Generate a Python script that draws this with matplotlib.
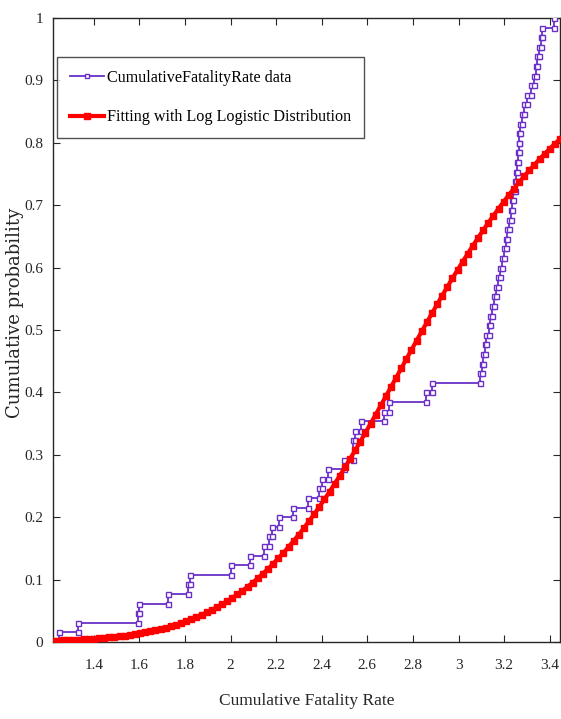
import numpy as np
import matplotlib
matplotlib.use("Agg")
import matplotlib.pyplot as plt
from matplotlib.ticker import FixedLocator, FixedFormatter

# ---- data ----
# sorted sample of cumulative fatality rates (n = 65)
fatality_rate = [
    1.246, 1.332, 1.594, 1.600, 1.726, 1.813, 1.820, 2.000, 2.086, 2.146,
    2.168, 2.182, 2.214, 2.273, 2.338, 2.390, 2.400, 2.426, 2.499, 2.535,
    2.535, 2.545, 2.572, 2.674, 2.696, 2.856, 2.883,
    3.093, 3.101, 3.107, 3.115, 3.122, 3.133, 3.140, 3.148, 3.156, 3.163,
    3.172, 3.180, 3.190, 3.198, 3.206, 3.214, 3.222, 3.229, 3.235, 3.240,
    3.246, 3.252, 3.257, 3.260, 3.263, 3.266, 3.270, 3.278, 3.287, 3.301,
    3.316, 3.330, 3.338, 3.345, 3.352, 3.360, 3.367, 3.418,
]
# fitted log-logistic parameters (log scale location / scale)
fit_mu = 1.0445
fit_sigma = 0.135
fit_points = 100
x_limits = [1.221, 3.445]

x_ticks = [1.4, 1.6, 1.8, 2.0, 2.2, 2.4, 2.6, 2.8, 3.0, 3.2, 3.4]
x_ticklabels = ["1.4", "1.6", "1.8", "2", "2.2", "2.4", "2.6", "2.8", "3", "3.2", "3.4"]
y_ticks = [0, 0.1, 0.2, 0.3, 0.4, 0.5, 0.6, 0.7, 0.8, 0.9, 1.0]
y_ticklabels = ["0", "0.1", "0.2", "0.3", "0.4", "0.5", "0.6", "0.7", "0.8", "0.9", "1"]

legend_labels = ["CumulativeFatalityRate data", "Fitting with Log Logistic Distribution"]
xlabel_text = "Cumulative Fatality Rate"
ylabel_text = "Cumulative probability"

# ---- empirical CDF as staircase vertices ----
vals = np.array(fatality_rate)
n = len(vals)
uniq, counts = np.unique(vals, return_counts=True)
F = np.cumsum(counts) / n
sx = []
sy = []
prev = 0.0
for u, f in zip(uniq, F):
    sx += [u, u]
    sy += [prev, f]
    prev = f
sx = np.array(sx)
sy = np.array(sy)

# ---- fitted curve ----
xf = np.linspace(x_limits[0], x_limits[1], fit_points)
Ff = 1.0 / (1.0 + np.exp(-(np.log(xf) - fit_mu) / fit_sigma))

plt.rcParams["font.family"] = ["Liberation Serif", "DejaVu Serif"]
fig = plt.figure(figsize=(5.61, 7.19), dpi=100)
ax = fig.add_axes([53 / 561, 77 / 719, 507 / 561, 624 / 719])

purple = "#6a2fc8"
ax.plot(sx, sy, "-s", color=purple, lw=1.3, ms=3.6, mfc="white", mec=purple, mew=1.0,
        label=legend_labels[0], zorder=3)
ax.plot(xf, Ff, "-s", color="#ff0000", lw=3, ms=5, mfc="#ff0000", mec="#ff0000",
        label=legend_labels[1], zorder=4)

ax.set_xlim(*x_limits)
ax.set_ylim(0, 1)
ax.xaxis.set_major_locator(FixedLocator(x_ticks))
ax.xaxis.set_major_formatter(FixedFormatter(x_ticklabels))
ax.yaxis.set_major_locator(FixedLocator(y_ticks))
ax.yaxis.set_major_formatter(FixedFormatter(y_ticklabels))
ax.tick_params(direction="in", length=5, width=0.8, colors="#262626", labelsize=11,
               top=True, right=True)
ax.tick_params(axis="x", pad=12)
ax.tick_params(axis="y", pad=7)
for s in ax.spines.values():
    s.set_color("#262626")
    s.set_linewidth(1.0)

ax.set_xlabel(xlabel_text, fontsize=12.5, color="#262626")
ax.xaxis.set_label_coords(0.5, -0.081)
ax.set_ylabel(ylabel_text, fontsize=13, color="#262626", family=["DejaVu Serif"])
ax.yaxis.set_label_coords(-0.058, 0.527)

leg = ax.legend(loc="upper left", bbox_to_anchor=(0.008, 0.9375), borderaxespad=0,
                fontsize=11.6, frameon=True, fancybox=False, edgecolor="#262626",
                handlelength=2.1, handletextpad=0.2, borderpad=0.8, labelspacing=1.45,
                markerscale=0.8)
leg.get_frame().set_linewidth(1.0)

fig.savefig("out.png", dpi=100)
